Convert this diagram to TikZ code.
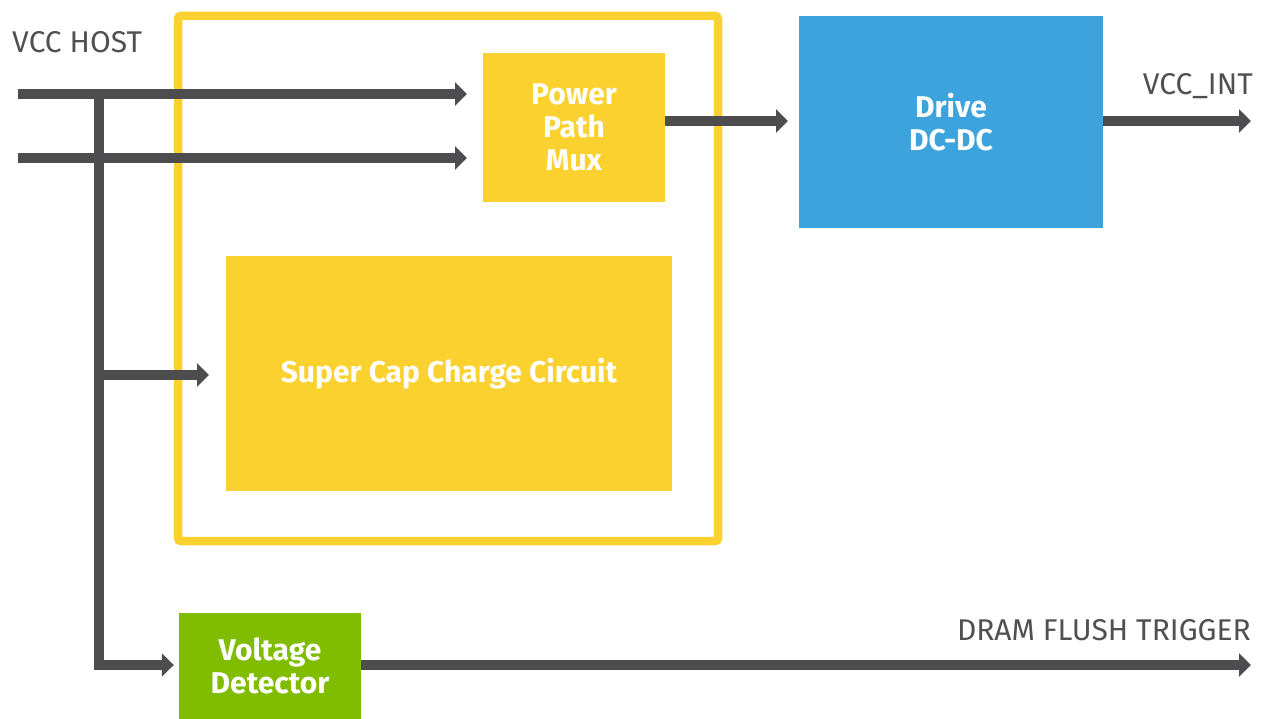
\documentclass[tikz,border=0pt]{standalone}
\usepackage{fontspec}
\setmainfont{Fira Sans}
\usetikzlibrary{arrows.meta}
\definecolor{cyel}{HTML}{FAD12E}
\definecolor{cblue}{HTML}{3DA3DC}
\definecolor{cgreen}{HTML}{80BC00}
\definecolor{cdark}{HTML}{4D4D4F}
\definecolor{ctext}{HTML}{505050}
\tikzset{
  blockbox/.style={rectangle, inner sep=0pt, text=white, align=center,
    font=\bfseries\fontsize{30}{33}\selectfont},
  wire/.style={draw=cdark, line width=9.5pt},
  flow/.style={wire, -{Triangle[length=12pt,width=23pt]}},
  lbl/.style={text=ctext, inner sep=0pt, font=\fontsize{30}{32}\selectfont}
}
\begin{document}
\begin{tikzpicture}[x=1pt,y=-1pt]
\useasboundingbox (0,0) rectangle (1261,719);
% outer frame
\draw[cyel, line width=8.5pt, rounded corners=3pt] (178,16) rectangle (718,541);
% blocks
\node[blockbox, fill=cyel, minimum width=182pt, minimum height=149pt] (mux) at (574,127.5) {\raisebox{-3pt}[\height][\depth]{\begin{tabular}{@{}c@{}}Power\\Path\\Mux\end{tabular}}};
\node[blockbox, fill=cblue, minimum width=304pt, minimum height=212pt] (drive) at (951,122) {Drive\\DC-DC};
\node[blockbox, fill=cyel, minimum width=446pt, minimum height=235pt] (cap) at (449,373.5) {Super Cap Charge Circuit};
\node[blockbox, fill=cgreen, minimum width=182pt, minimum height=106pt] (vd) at (270,666) {Voltage\\Detector};
% coordinates
\coordinate (in1) at (18,94);
\coordinate (in2) at (18,158);
\coordinate (j) at (99,94);
\coordinate (jb) at (99,665);
\coordinate (jc) at (99,375);
\coordinate (out1) at (1251,121);
\coordinate (out2) at (1251,665);
% wires
\draw[flow] (in1) -- (467,94);
\draw[flow] (in2) -- (467,158);
\draw[wire, line cap=rect] (j) -- (jb);
\draw[flow] (jc) -- (209,375);
\draw[flow] (jb) -- ([xshift=-5pt]vd.west |- jb);
\draw[flow] (mux.east |- 0,121) -- (788,121);
\draw[flow] (drive.east |- out1) -- (out1);
\draw[flow] (vd.east |- out2) -- (out2);
% labels
\node[lbl, anchor=base west] (lhost) at (12,53) {VCC HOST};
\node[lbl, anchor=base east] (lint) at (1253,95) {VCC\_INT};
\node[lbl, anchor=base east] (ldram) at (1251,640) {DRAM FLUSH TRIGGER};
\end{tikzpicture}
\end{document}
